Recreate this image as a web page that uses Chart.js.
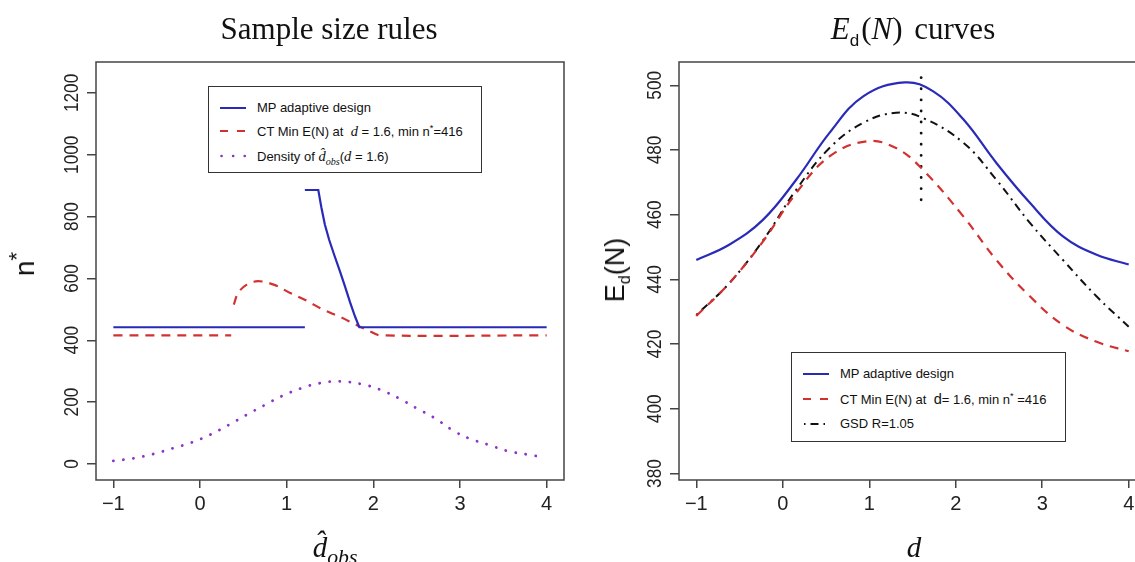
<!DOCTYPE html>
<html>
<head>
<meta charset="utf-8">
<script src="https://cdn.jsdelivr.net/npm/chart.js@4.4.1/dist/chart.umd.min.js"></script>
<style>
  body { margin:0; width:1135px; height:562px; overflow:hidden; position:relative; background:#fff; }
  canvas { position:absolute; top:0; }
  .t { position:absolute; white-space:nowrap; color:#111; }
  .title { font-family:'Liberation Serif', serif; font-size:31px; line-height:36px; text-align:center; }
  .ax { font-family:'Liberation Sans', Arial, sans-serif; font-size:28px; line-height:32px; }
  .xt { font-family:'Liberation Serif', serif; font-style:italic; font-size:29px; line-height:34px; text-align:center; }
  .leg { position:absolute; box-sizing:border-box; border:1.5px solid #333; background:#fff; }
  .row { position:absolute; left:0; height:20px; line-height:20px; font-family:'Liberation Sans', Arial, sans-serif; font-size:13px; color:#111; white-space:nowrap; }
  .row svg { position:absolute; top:8px; }
  .row span.txt { position:absolute; }
  .m { font-family:'Liberation Serif', serif; font-style:italic; font-size:14.5px; }
  sup, sub { font-size:70%; line-height:0; }
</style>
</head>
<body>
<canvas id="leftChart" width="580" height="562" style="left:0"></canvas>
<canvas id="rightChart" width="580" height="562" style="left:580px"></canvas>

<div class="t title" style="left:129px; top:11px; width:400px;">Sample size rules</div>
<div class="t title" style="left:713px; top:11px; width:400px; word-spacing:4px;"><i>E</i><sub style="font-family:'Liberation Sans',sans-serif;font-size:55%;">d</sub><span style="margin-left:2px">(</span><i>N</i>) curves</div>

<div class="t ax" style="left:25px; top:264px; transform:translate(-50%,-50%) rotate(-90deg);">n<sup style="font-size:80%">*</sup></div>
<div class="t ax" style="left:615px; top:270px; font-size:27px; transform:translate(-50%,-50%) rotate(-90deg);">E<sub style="font-size:60%">d</sub>(N)</div>

<div class="t xt" style="left:235px; top:530px; width:200px;">d&#770;<sub style="font-size:75%">obs</sub></div>
<div class="t xt" style="left:814px; top:530px; width:200px;">d</div>

<div class="leg" style="left:208px; top:86px; width:274px; height:87px;">
  <div class="row" style="top:11px;">
    <svg width="28" height="4" style="left:11px"><line x1="0" y1="2" x2="26" y2="2" stroke="#2a2ab8" stroke-width="2"/></svg>
    <span class="txt" style="left:48px">MP adaptive design</span>
  </div>
  <div class="row" style="top:34px;">
    <svg width="28" height="4" style="left:11px"><line x1="0" y1="2" x2="26" y2="2" stroke="#d33030" stroke-width="2" stroke-dasharray="8 9"/></svg>
    <span class="txt" style="left:48px">CT Min E(N) at &nbsp;<span class="m">d</span> = 1.6, min n<sup>*</sup>=416</span>
  </div>
  <div class="row" style="top:59px;">
    <svg width="28" height="4" style="left:11px"><line x1="1.5" y1="2" x2="26" y2="2" stroke="#8a35c8" stroke-width="2.6" stroke-linecap="round" stroke-dasharray="0.1 11.5"/></svg>
    <span class="txt" style="left:48px">Density of <span class="m">d&#770;<sub>obs</sub></span>(<span class="m">d</span> = 1.6)</span>
  </div>
</div>

<div class="leg" style="left:791px; top:352px; width:275px; height:90px;">
  <div class="row" style="top:11px;">
    <svg width="28" height="4" style="left:11px"><line x1="0" y1="2" x2="26" y2="2" stroke="#2a2ab8" stroke-width="2"/></svg>
    <span class="txt" style="left:48px">MP adaptive design</span>
  </div>
  <div class="row" style="top:36px;">
    <svg width="28" height="4" style="left:11px"><line x1="0" y1="2" x2="26" y2="2" stroke="#d33030" stroke-width="2" stroke-dasharray="8 9"/></svg>
    <span class="txt" style="left:48px">CT Min E(N) at &nbsp;<span style="font-size:14.5px">d</span>= 1.6, min n<sup>*</sup> =416</span>
  </div>
  <div class="row" style="top:61px;">
    <svg width="28" height="4" style="left:11px"><line x1="1" y1="2" x2="27" y2="2" stroke="#111" stroke-width="2" stroke-dasharray="1.5 5 8 5"/></svg>
    <span class="txt" style="left:48px">GSD R=1.05</span>
  </div>
</div>

<script>
// ---- data ----
const xTicks = [-1, 0, 1, 2, 3, 4];
const yTicksLeft = [0, 200, 400, 600, 800, 1000, 1200];
const yTicksRight = [380, 400, 420, 440, 460, 480, 500];

// left panel: sample size rules (null = break in line)
const mpLeftX = [-1, 1.21, 1.21, 1.21, 1.365, 1.40, 1.44, 1.49, 1.55, 1.61, 1.67, 1.73, 1.79, 1.838, 4];
const mpLeftY = [442, 442, null, 886, 886, 830, 775, 725, 675, 627, 577, 524, 476, 442, 442];

const ctLeftX = [-1, 0.36, 0.37, 0.39, 0.44, 0.54, 0.67, 0.85, 1.04, 1.23, 1.42, 1.62, 1.80, 1.96, 2.08, 4];
const ctLeftY = [416, 416, null, 515, 553, 580, 591, 580, 553, 528, 499, 475, 450, 429, 416, 416];

const densX = [-1, -0.77, -0.54, -0.31, -0.10, 0.115, 0.33, 0.54, 0.75, 0.95, 1.17, 1.38, 1.615, 1.865, 2.08, 2.31, 2.50, 2.71, 2.92, 3.11, 3.35, 3.56, 3.81, 3.95];
const densY = [10, 18, 32, 51, 69, 94, 126, 159, 191, 220, 245, 261, 267, 258, 240, 210, 180, 148, 108, 82, 60, 41, 29, 22];

// right panel: E_d(N) curves
const mpRightX = [-1, -0.62, -0.23, 0.155, 0.54, 0.93, 1.41, 1.74, 2.09, 2.47, 2.86, 3.24, 3.63, 4.0];
const mpRightY = [446.0, 450.7, 458.4, 470.8, 485.3, 496.6, 500.9, 498.1, 489.4, 476.0, 463.6, 453.3, 447.6, 444.6];

const ctRightX = [-1, -0.62, -0.23, 0.155, 0.54, 0.97, 1.31, 1.62, 2.09, 2.47, 2.86, 3.24, 3.63, 4.0];
const ctRightY = [428.7, 438.8, 451.7, 466.7, 478.0, 482.7, 480.6, 473.9, 459.4, 446.0, 434.7, 425.9, 420.7, 417.8];

const gsdX = [-1, -0.62, -0.23, 0.155, 0.54, 0.93, 1.31, 1.62, 2.09, 2.47, 2.86, 3.24, 3.63, 4.0];
const gsdY = [429, 438.8, 452, 467.7, 480.6, 488.4, 491.5, 489.9, 482.2, 470.8, 457.4, 446.0, 434.7, 425.4];

const vlineX = [1.6, 1.6];
const vlineY = [464.6, 502.8];

function pts(xs, ys) {
  return xs.map((x, i) => ({x: x, y: ys[i]}));
}

// box around plot area + rotated y tick labels (R style)
const framePlugin = {
  id: 'frame',
  afterDraw(chart, args, opts) {
    const ctx = chart.ctx, a = chart.chartArea, y = chart.scales.y;
    ctx.save();
    ctx.strokeStyle = '#444';
    ctx.lineWidth = 1.5;
    ctx.strokeRect(a.left, a.top, a.right - a.left, a.bottom - a.top);
    ctx.fillStyle = '#222';
    ctx.font = opts.font;
    ctx.textAlign = 'center';
    ctx.textBaseline = 'middle';
    y.ticks.forEach(t => {
      ctx.save();
      ctx.translate(a.left - opts.offset, y.getPixelForValue(t.value));
      ctx.rotate(-Math.PI / 2);
      ctx.scale(opts.squeeze, 1);
      ctx.fillText(String(t.value), 0, 0);
      ctx.restore();
    });
    ctx.restore();
  }
};

function line(data, color, width, dash, extra) {
  return Object.assign({
    data: data, showLine: true, borderColor: color, borderWidth: width,
    borderDash: dash || [], pointRadius: 0, fill: false, spanGaps: false,
    tension: 0.4
  }, extra || {});
}

function makeChart(id, datasets, yMin, yMax, yTicks, yWidth, padRight) {
  return new Chart(document.getElementById(id), {
    type: 'scatter',
    data: { datasets: datasets },
    plugins: [framePlugin],
    options: {
      responsive: false,
      animation: false,
      devicePixelRatio: 1,
      layout: { padding: { top: 62, right: padRight, left: 0, bottom: 0 } },
      plugins: {
        legend: { display: false },
        tooltip: { enabled: false },
        frame: { font: '20px "Liberation Sans", Arial', offset: 24, squeeze: 0.86 }
      },
      scales: {
        x: {
          type: 'linear', min: -1.2, max: 4.2,
          afterBuildTicks: s => { s.ticks = xTicks.map(v => ({value: v})); },
          afterFit: s => { s.height = 82; },
          grid: { display: true, drawOnChartArea: false, drawTicks: true, tickLength: 8, color: '#444', lineWidth: 1.5 },
          border: { display: false },
          ticks: {
            color: '#222', padding: 4, font: { family: '"Liberation Sans", Arial', size: 20 },
            callback: v => String(v).replace('-', '\u2212')
          }
        },
        y: {
          type: 'linear', min: yMin, max: yMax,
          afterBuildTicks: s => { s.ticks = yTicks.map(v => ({value: v})); },
          afterFit: s => { s.width = yWidth; },
          grid: { display: true, drawOnChartArea: false, drawTicks: true, tickLength: 9, color: '#444', lineWidth: 1.5 },
          border: { display: false },
          ticks: { display: false }
        }
      }
    }
  });
}

makeChart('leftChart', [
  line(pts(mpLeftX, mpLeftY), '#2a2ab8', 2.2, [], { tension: 0 }),
  line(pts(ctLeftX, ctLeftY), '#d33030', 2.2, [9, 7], { tension: 0.35 }),
  line(pts(densX, densY), '#8a35c8', 2.8, [0.1, 10], { borderCapStyle: 'round' })
], -52, 1300, yTicksLeft, 96, 16);

makeChart('rightChart', [
  line(pts(mpRightX, mpRightY), '#2a2ab8', 2.2),
  line(pts(ctRightX, ctRightY), '#d33030', 2.2, [9, 7]),
  line(pts(gsdX, gsdY), '#111', 2, [2, 5, 8, 5]),
  line(pts(vlineX, vlineY), '#111', 2.8, [0.1, 11], { borderCapStyle: 'round', tension: 0 })
], 378, 507.2, yTicksRight, 99, 14);
</script>
</body>
</html>
